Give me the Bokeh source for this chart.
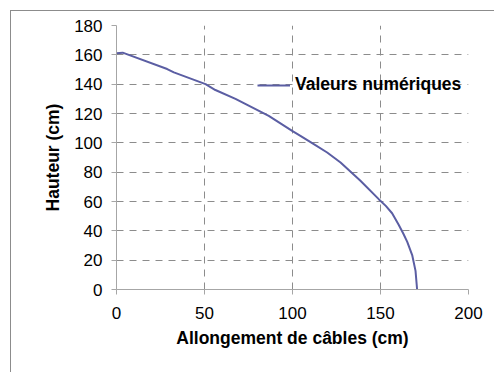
from bokeh.plotting import figure
from bokeh.models import Range1d, FixedTicker, Legend, LegendItem, InlineStyleSheet
from bokeh.embed import file_html
from bokeh.resources import INLINE

# Data
allongement = [0, 3.5, 28.8, 32.6, 50.6, 56.2, 67.6, 86.5, 99.8, 104.5, 112.1, 119.7,
               127.3, 138.6, 149.0, 153.0, 156.6, 160.4, 163.0, 165.2, 168.0, 169.9, 170.8]
hauteur = [161, 161.5, 150.3, 148.0, 140, 136, 130, 118.4, 108.2, 104.8, 99.1, 93.4,
           86.6, 74.1, 61.6, 57.0, 52.0, 44.0, 38.0, 32.5, 23.5, 12.7, 0]
x_ticks = [0, 50, 100, 150, 200]
y_ticks = [0, 20, 40, 60, 80, 100, 120, 140, 160, 180]
series_name = "Valeurs numériques"
x_title = "Allongement de câbles (cm)"
y_title = "Hauteur (cm)"

FONT = "Liberation Sans"
GRID = "#8c8c8c"
AXIS = "#a6a6a6"
LINE = "#5b5ea3"

p = figure(output_backend="svg", toolbar_location=None,
           frame_width=352, frame_height=264,
           min_border_left=116, min_border_right=26,
           min_border_top=25, min_border_bottom=83,
           x_range=Range1d(0, 200), y_range=Range1d(0, 180))

p.outline_line_color = None
p.background_fill_color = "white"
p.border_fill_color = "white"

# outer chart-area border (only its left and top edges fall inside the picture)
p.stylesheets = [InlineStyleSheet(css="""
:host { position: relative; }
:host::after {
  content: ""; position: absolute; left: 10px; top: 10px; right: 0; bottom: 0;
  border-left: 1px solid #8c8c8c; border-top: 1px solid #8c8c8c;
  pointer-events: none; z-index: 10;
}
""")]

r = p.line(allongement, hauteur, line_color=LINE, line_width=2)

p.xaxis.ticker = FixedTicker(ticks=x_ticks)
p.yaxis.ticker = FixedTicker(ticks=y_ticks)

for ax in (p.xaxis[0], p.yaxis[0]):
    ax.axis_line_color = AXIS
    ax.axis_line_width = 1
    ax.major_tick_line_color = AXIS
    ax.major_tick_out = 5
    ax.major_tick_in = 0
    ax.minor_tick_line_color = None
    ax.major_label_text_font = FONT
    ax.major_label_text_font_size = "17px"
    ax.major_label_text_color = "black"
    ax.axis_label_text_font = FONT
    ax.axis_label_text_font_size = "17.5px"
    ax.axis_label_text_font_style = "bold"
    ax.axis_label_text_color = "black"

p.xaxis.axis_label = x_title
p.yaxis.axis_label = y_title
p.xaxis.major_label_standoff = 12
p.yaxis.major_label_standoff = 9
p.xaxis.axis_label_standoff = 6
p.yaxis.axis_label_standoff = 8

for g in (p.xgrid[0], p.ygrid[0]):
    g.grid_line_color = GRID
    g.grid_line_dash = "7 6"
    g.grid_line_width = 1

legend = Legend(items=[LegendItem(label=series_name, renderers=[r])],
                location=(141, 194), orientation="vertical",
                border_line_color=None, background_fill_alpha=0,
                padding=0, margin=0, spacing=0,
                glyph_width=33, glyph_height=20, label_height=20,
                label_standoff=5,
                label_text_font=FONT, label_text_font_size="17.5px",
                label_text_font_style="bold", label_text_color="black")
p.add_layout(legend)

open("out.html", "w").write(file_html(p, INLINE))
